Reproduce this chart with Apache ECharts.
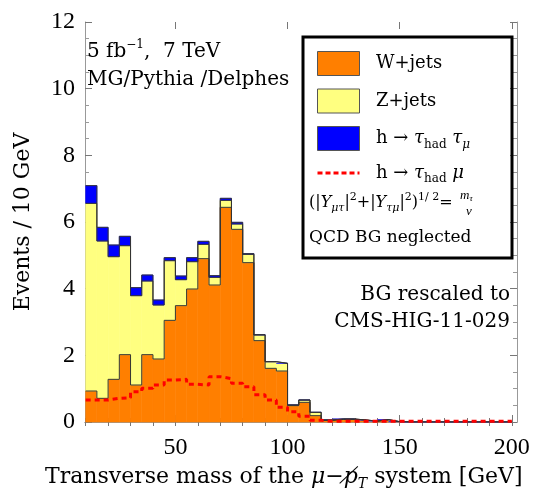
<!DOCTYPE html>
<html>
<head>
<meta charset="utf-8">
<script src="https://cdn.jsdelivr.net/npm/echarts@6/dist/echarts.min.js"></script>
<style>
  html, body { margin: 0; padding: 0; background: #fff; }
  #chart { width: 552px; height: 491px; }
</style>
</head>
<body>
<div id="chart"></div>
<script>
// lower edge of each 5 GeV bin
const binLow = [10, 15, 20, 25, 30, 35, 40, 45, 50, 55, 60, 65, 70, 75, 80, 85, 90, 95,
  100, 105, 110, 115, 120, 125, 130, 135, 140, 145, 150, 155, 160, 165, 170, 175, 180, 185, 190, 195];

const wJets = [0.93, 0.71, 1.28, 2.02, 1.11, 2.02, 1.89, 3.05, 3.49, 3.99, 4.90, 4.11, 6.44, 5.78, 4.78, 2.44, 1.61, 1.53,
  0.49, 0.59, 0.19, 0.05, 0.08, 0.08, 0.06, 0.02, 0.07, 0.01, 0, 0, 0, 0, 0, 0, 0, 0, 0, 0];
const zJets = [5.63, 4.72, 3.68, 3.27, 2.68, 2.21, 1.62, 1.79, 0.78, 0.82, 0.43, 0.23, 0.21, 0.16, 0.25, 0.17, 0.20, 0.23,
  0.02, 0.07, 0.10, 0.01, 0.01, 0.01, 0, 0.01, 0, 0, 0, 0, 0, 0, 0, 0, 0, 0, 0, 0];
const hTauTau = [0.53, 0.41, 0.35, 0.28, 0.24, 0.18, 0.15, 0.09, 0.11, 0.12, 0.09, 0.05, 0.06, 0.05, 0.02, 0.01, 0, 0,
  0, 0, 0, 0, 0, 0, 0, 0, 0, 0, 0, 0, 0, 0, 0, 0, 0, 0, 0, 0];
const hTauMu = [0.66, 0.66, 0.71, 0.73, 0.91, 1.01, 1.11, 1.26, 1.28, 1.13, 1.11, 1.36, 1.30, 1.16, 1.06, 0.82, 0.66, 0.44,
  0.31, 0.17, 0.05, 0.02, 0.02, 0.02, 0.02, 0.02, 0.02, 0.02, 0.02, 0.02, 0.02, 0.02, 0.02, 0.02, 0.02, 0.02, 0.02, 0.02];

const xTicks = [10, 20, 30, 40, 50, 60, 70, 80, 90, 100, 110, 120, 130, 140, 150, 160, 170, 180, 190, 200];
const xLabels = [50, 100, 150, 200];
const xMax = 200;

const serif = 'Liberation Serif';
const wide = 'DejaVu Serif';

// stacked tops
const topW = wJets.slice();
const topZ = wJets.map((v, i) => v + zJets[i]);
const topH = topZ.map((v, i) => v + hTauTau[i]);
const zeros = wJets.map(() => 0);

// step points for the outlines: one per bin lower edge, plus the closing edge
function steps(vals) {
  let pts = binLow.map((x, i) => [x, vals[i]]);
  pts.push([xMax, vals[vals.length - 1]]);
  return pts;
}

// [lo, hi, base, top] per bin
function layer(base, top) {
  return binLow.map((lo, i) => [lo, i + 1 < binLow.length ? binLow[i + 1] : xMax, base[i], top[i]]);
}

function histSeries(name, color, base, top) {
  return {
    name: name, type: 'custom', z: 2,
    itemStyle: { color: color },
    encode: { x: [0, 1], y: [2, 3] },
    data: layer(base, top),
    renderItem: function (params, api) {
      let a = api.coord([api.value(0), api.value(3)]);
      let b = api.coord([api.value(1), api.value(2)]);
      return {
        type: 'rect',
        shape: { x: a[0], y: a[1], width: b[0] - a[0], height: b[1] - a[1] },
        style: { fill: color, stroke: color, lineWidth: 0.6 }
      };
    }
  };
}

function outline(vals) {
  return {
    type: 'line', step: 'end', symbol: 'none', z: 3, silent: true,
    data: steps(vals),
    lineStyle: { color: '#333', width: 1 }
  };
}

const rich = {
  txt: { fontFamily: wide, fontSize: 18, lineHeight: 24, verticalAlign: 'middle' },
  it: { fontFamily: wide, fontStyle: 'italic', fontSize: 18, lineHeight: 24, verticalAlign: 'middle' },
  sub: { fontFamily: wide, fontSize: 12, lineHeight: 24, verticalAlign: 'bottom' },
  subi: { fontFamily: wide, fontStyle: 'italic', fontSize: 12, lineHeight: 24, verticalAlign: 'bottom' }
};

let chart = echarts.init(document.getElementById('chart'));

const frameAxis = { show: true, lineStyle: { color: '#999', width: 1 } };

chart.setOption({
  animation: false,
  backgroundColor: '#fff',
  grid: { left: 85, right: 35, top: 22, bottom: 69 },
  xAxis: [
    {
      type: 'value', min: 9.7, max: 202.3, position: 'bottom',
      axisLine: frameAxis,
      axisTick: { show: true, inside: true, length: 4, customValues: xTicks, lineStyle: { color: '#777' } },
      axisLabel: { customValues: xLabels, color: '#000', fontFamily: serif, fontSize: 24, margin: 14 },
      splitLine: { show: false }
    },
    {
      type: 'value', min: 9.7, max: 202.3, position: 'top',
      axisLine: frameAxis,
      axisTick: { show: true, inside: true, length: 4, customValues: xTicks, lineStyle: { color: '#777' } },
      axisLabel: { show: false }, splitLine: { show: false }
    },
    {
      type: 'value', min: 9.7, max: 202.3, position: 'bottom',
      axisLine: { show: false },
      axisTick: { show: true, inside: true, length: 7, customValues: xLabels, lineStyle: { color: '#777' } },
      axisLabel: { show: false }, splitLine: { show: false }
    },
    {
      type: 'value', min: 9.7, max: 202.3, position: 'top',
      axisLine: { show: false },
      axisTick: { show: true, inside: true, length: 7, customValues: xLabels, lineStyle: { color: '#777' } },
      axisLabel: { show: false }, splitLine: { show: false }
    }
  ],
  yAxis: [
    {
      type: 'value', min: 0, max: 12, interval: 2, position: 'left',
      axisLine: frameAxis,
      axisTick: { show: true, inside: true, length: 7, lineStyle: { color: '#777' } },
      minorTick: { show: true, splitNumber: 4, length: 4, lineStyle: { color: '#999' } },
      axisLabel: { color: '#000', fontFamily: serif, fontSize: 24, margin: 10 },
      splitLine: { show: false },
      name: 'Events / 10 GeV', nameLocation: 'middle', nameGap: 51, nameRotate: 90,
      nameTextStyle: { color: '#000', fontFamily: wide, fontSize: 22 }
    },
    {
      type: 'value', min: 0, max: 12, interval: 2, position: 'right',
      axisLine: frameAxis,
      axisTick: { show: true, inside: true, length: 7, lineStyle: { color: '#777' } },
      minorTick: { show: true, splitNumber: 4, length: 4, lineStyle: { color: '#999' } },
      axisLabel: { show: false }, splitLine: { show: false }
    }
  ],
  legend: {
    orient: 'vertical', left: 311, top: 46, itemWidth: 42, itemHeight: 24, itemGap: 12.5,
    selectedMode: false, z: 10,
    textStyle: { color: '#000', fontFamily: wide, fontSize: 18, rich: rich },
    data: [
      { name: 'W+jets', icon: 'rect', itemStyle: { color: '#ff7f00', borderColor: '#555', borderWidth: 1 } },
      { name: 'Z+jets', icon: 'rect', itemStyle: { color: '#ffff80', borderColor: '#555', borderWidth: 1 } },
      { name: 'h_tautau', icon: 'rect', itemStyle: { color: '#0000ff', borderColor: '#555', borderWidth: 1 } },
      { name: 'h_taumu', itemStyle: { opacity: 0 }, lineStyle: { color: '#ff0000', width: 3, type: [5, 3] } }
    ],
    formatter: function (name) {
      if (name === 'h_tautau') return '{txt|  h → }{it|τ}{sub|had}{txt| }{it|τ}{subi|μ}';
      if (name === 'h_taumu') return '{txt|  h → }{it|τ}{sub|had}{txt| }{it|μ}';
      return '{txt|  ' + name + '}';
    }
  },
  graphic: [
    { type: 'rect', z: 100, shape: { x: 303, y: 37, width: 209, height: 221 },
      style: { fill: 'none', stroke: '#000', lineWidth: 3 } },
    { type: 'text', z: 100, style: {
      x: 309, y: 203, verticalAlign: 'middle', fill: '#000',
      text: '(|{i|Y}{s|μτ}|{p|2}+|{i|Y}{s|τμ}|{p|2}){p|1/ 2}=',
      rich: {
        i: { fontFamily: wide, fontStyle: 'italic', fontSize: 16, lineHeight: 22, verticalAlign: 'middle' },
        s: { fontFamily: wide, fontStyle: 'italic', fontSize: 11, lineHeight: 22, verticalAlign: 'bottom' },
        p: { fontFamily: wide, fontSize: 11, lineHeight: 22, verticalAlign: 'top' }
      },
      font: '16px "DejaVu Serif"'
    } },
    { type: 'text', z: 100, style: {
      x: 460, y: 196, verticalAlign: 'middle', fill: '#000',
      text: '{i|m}{s|τ}',
      rich: {
        i: { fontFamily: serif, fontStyle: 'italic', fontSize: 13, lineHeight: 14, verticalAlign: 'middle' },
        s: { fontFamily: serif, fontStyle: 'italic', fontSize: 9, lineHeight: 14, verticalAlign: 'bottom' }
      }
    } },
    { type: 'text', z: 100, style: { x: 466, y: 212, verticalAlign: 'middle', fill: '#000',
      text: 'v', font: 'italic 13px "Liberation Serif"' } },
    { type: 'text', z: 100, style: { x: 309, y: 238, verticalAlign: 'middle', fill: '#000',
      text: 'QCD BG neglected', font: '17px "DejaVu Serif"' } },
    { type: 'text', z: 100, style: {
      x: 87, y: 52, verticalAlign: 'middle', fill: '#000',
      text: '{t|5 fb}{p|−1}{t|,  7 TeV}',
      rich: {
        t: { fontFamily: wide, fontSize: 20, lineHeight: 26, verticalAlign: 'middle' },
        p: { fontFamily: wide, fontSize: 12, lineHeight: 26, verticalAlign: 'top' }
      }
    } },
    { type: 'text', z: 100, style: { x: 87, y: 80, verticalAlign: 'middle', fill: '#000',
      text: 'MG/Pythia /Delphes', font: '20px "DejaVu Serif"' } },
    { type: 'text', z: 100, style: { x: 510, y: 295, align: 'right', verticalAlign: 'middle', fill: '#000',
      text: 'BG rescaled to', font: '20px "DejaVu Serif"' } },
    { type: 'text', z: 100, style: { x: 510, y: 322, align: 'right', verticalAlign: 'middle', fill: '#000',
      text: 'CMS-HIG-11-029', font: '20px "DejaVu Serif"' } },
    { type: 'text', z: 100, style: {
      x: 45, y: 477, verticalAlign: 'middle', fill: '#000',
      text: 'Transverse mass of the {it|μ}−{it|p̸}{subi|T} system [GeV]',
      font: '22px "DejaVu Serif"',
      rich: {
        it: { fontFamily: wide, fontStyle: 'italic', fontSize: 22, lineHeight: 28, verticalAlign: 'middle' },
        subi: { fontFamily: wide, fontStyle: 'italic', fontSize: 14, lineHeight: 28, verticalAlign: 'bottom' }
      }
    } }
  ],
  series: [
    histSeries('W+jets', '#ff7f00', zeros, topW),
    histSeries('Z+jets', '#ffff80', topW, topZ),
    histSeries('h_tautau', '#0000ff', topZ, topH),
    outline(topW),
    outline(topZ),
    outline(topH),
    {
      name: 'h_taumu', type: 'line', step: 'end', symbol: 'none', z: 5,
      data: steps(hTauMu),
      itemStyle: { color: '#ff0000' },
      lineStyle: { color: '#ff0000', width: 3, type: [5, 4] }
    }
  ]
});
</script>
</body>
</html>
